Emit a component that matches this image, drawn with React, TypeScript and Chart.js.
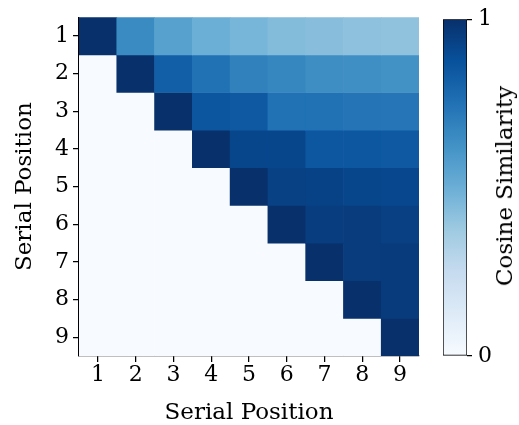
import React, { useEffect, useRef } from 'react';
import { Chart, registerables } from 'chart.js';

Chart.register(...registerables);

// ---- data ----
const positions = ['1', '2', '3', '4', '5', '6', '7', '8', '9'];
const rowPositions = [1, 2, 3, 4, 5, 6, 7, 8, 9];

const row1 = [1.0, 0.65, 0.56, 0.5, 0.47, 0.44, 0.43, 0.415, 0.41];
const row2 = [0, 1.0, 0.82, 0.75, 0.69, 0.67, 0.64, 0.635, 0.625];
const row3 = [0, 0, 1.0, 0.855, 0.845, 0.75, 0.75, 0.74, 0.735];
const row4 = [0, 0, 0, 1.0, 0.915, 0.915, 0.85, 0.85, 0.845];
const row5 = [0, 0, 0, 0, 1.0, 0.935, 0.93, 0.915, 0.912];
const row6 = [0, 0, 0, 0, 0, 1.0, 0.95, 0.955, 0.94];
const row7 = [0, 0, 0, 0, 0, 0, 1.0, 0.955, 0.96];
const row8 = [0, 0, 0, 0, 0, 0, 0, 1.0, 0.96];
const row9 = [0, 0, 0, 0, 0, 0, 0, 0, 1.0];
const similarity = [row1, row2, row3, row4, row5, row6, row7, row8, row9];

const colorbarTicks = [0, 1];

// ---- matplotlib "Blues" colormap ----
const BLUES: number[][] = [
  [247, 251, 255],
  [222, 235, 247],
  [198, 219, 239],
  [158, 202, 225],
  [107, 174, 214],
  [66, 146, 198],
  [33, 113, 181],
  [8, 81, 156],
  [8, 48, 107],
];

function blues(v: number): string {
  const t = Math.max(0, Math.min(1, v)) * (BLUES.length - 1);
  const i = Math.min(Math.floor(t), BLUES.length - 2);
  const f = t - i;
  const a = BLUES[i];
  const b = BLUES[i + 1];
  const c = a.map((x, k) => Math.round(x + (b[k] - x) * f));
  return `rgb(${c[0]},${c[1]},${c[2]})`;
}

const FONT = 'DejaVu Serif';
const TICK_SIZE = 22;
const TITLE_SIZE = 23;

export default function App() {
  const mainRef = useRef<HTMLCanvasElement>(null);
  const barRef = useRef<HTMLCanvasElement>(null);

  useEffect(() => {
    const axisColor = '#000';
    const main = new Chart(mainRef.current!, {
      type: 'bar',
      data: {
        labels: positions,
        datasets: similarity.map((row, r) => ({
          label: 'Row ' + positions[r],
          data: row.map(() => [rowPositions[r] - 0.5, rowPositions[r] + 0.5]),
          backgroundColor: row.map((v) => blues(v)),
          borderWidth: 0,
          barPercentage: 1,
          categoryPercentage: 1,
          grouped: false,
        })) as any,
      },
      options: {
        animation: false,
        responsive: false,
        layout: { padding: { left: 0, right: 100, top: 16, bottom: 0 } },
        plugins: { legend: { display: false }, tooltip: { enabled: false } },
        scales: {
          x: {
            type: 'category',
            offset: true,
            grid: { offset: false, drawOnChartArea: false, drawTicks: true, tickLength: 6, color: axisColor, lineWidth: 1.25 },
            border: { display: true, color: axisColor, width: 1.25 },
            ticks: { color: '#000', font: { family: FONT, size: TICK_SIZE }, padding: 0, maxRotation: 0, autoSkip: false },
            title: { display: true, text: 'Serial Position', color: '#000', font: { family: FONT, size: TITLE_SIZE }, padding: { top: 0, bottom: -2 } },
            afterFit: (s: any) => { s.height = 69; },
          },
          y: {
            type: 'linear',
            reverse: true,
            min: 0.5,
            max: 9.5,
            afterBuildTicks: (s: any) => { s.ticks = rowPositions.map((v) => ({ value: v })); },
            grid: { drawOnChartArea: false, drawTicks: true, tickLength: 6, color: axisColor, lineWidth: 1.25 },
            border: { display: true, color: axisColor, width: 1.25 },
            ticks: { color: '#000', font: { family: FONT, size: TICK_SIZE }, padding: 4 },
            title: { display: true, text: 'Serial Position', color: '#000', font: { family: FONT, size: TITLE_SIZE }, padding: { top: 11, bottom: 0 } },
            afterFit: (s: any) => { s.width = 79; },
          },
        } as any,
      },
    });

    const bar = new Chart(barRef.current!, {
      type: 'bar',
      data: {
        labels: [''],
        datasets: [
          {
            label: 'Cosine Similarity',
            data: [[colorbarTicks[0], colorbarTicks[1]]] as any,
            backgroundColor: (ctx: any) => {
              const area = ctx.chart.chartArea;
              if (!area) return blues(0.5);
              const g = ctx.chart.ctx.createLinearGradient(0, area.bottom, 0, area.top);
              BLUES.forEach((c, i) => g.addColorStop(i / (BLUES.length - 1), `rgb(${c[0]},${c[1]},${c[2]})`));
              return g;
            },
            borderColor: '#000',
            borderWidth: 1,
            borderSkipped: false,
            barPercentage: 1,
            categoryPercentage: 1,
          } as any,
        ],
      },
      options: {
        animation: false,
        responsive: false,
        layout: { padding: { left: 13, right: 0, top: 16, bottom: 69 } },
        plugins: { legend: { display: false }, tooltip: { enabled: false } },
        scales: {
          x: { display: false },
          y: {
            position: 'right',
            min: 0,
            max: 1,
            afterBuildTicks: (s: any) => { s.ticks = colorbarTicks.map((v) => ({ value: v })); },
            grid: { drawOnChartArea: false, drawTicks: true, tickLength: 5, color: '#000', lineWidth: 1.25 },
            border: { display: false },
            ticks: { color: '#000', font: { family: FONT, size: TICK_SIZE }, padding: 6 },
            afterFit: (s: any) => { s.width = 52; },
          },
        } as any,
      },
    });

    return () => {
      main.destroy();
      bar.destroy();
    };
  }, []);

  return (
    <div style={{ position: 'absolute', left: 0, top: 0, width: 519, height: 425, background: '#fff' }}>
      <canvas ref={mainRef} width={519} height={425} style={{ position: 'absolute', left: 0, top: 0 }} />
      <canvas ref={barRef} width={89} height={425} style={{ position: 'absolute', left: 430, top: 0 }} />
      <div
        style={{
          position: 'absolute',
          left: 504,
          top: 186,
          transform: 'translate(-50%, -50%) rotate(-90deg)',
          whiteSpace: 'nowrap',
          fontFamily: FONT,
          fontSize: TITLE_SIZE,
          color: '#000',
          lineHeight: 'normal',
        }}
      >
        Cosine Similarity
      </div>
    </div>
  );
}
